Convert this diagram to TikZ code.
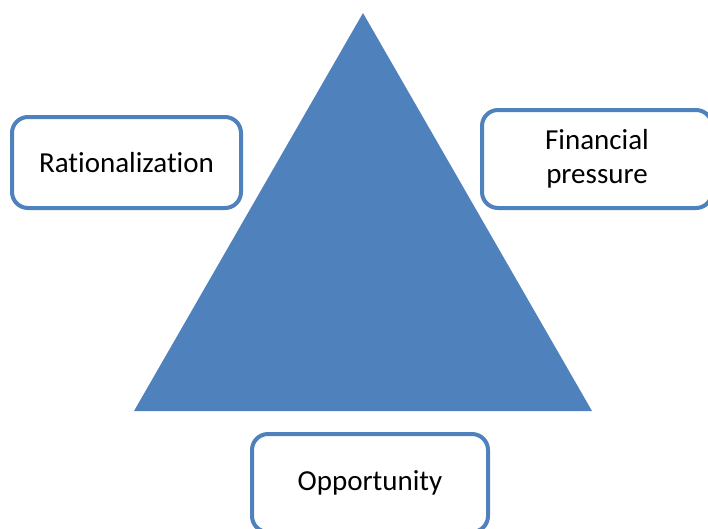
\documentclass[tikz,border=0pt]{standalone}
\usepackage{fontspec}
\setmainfont{Carlito}[Ligatures={NoCommon}]
\definecolor{accent}{HTML}{4F81BD}
\begin{document}
\begin{tikzpicture}[x=1pt,y=-1pt,
  labelbox/.style={draw=accent, line width=4pt, rounded corners=16pt, fill=white,
    minimum width=#1, align=center, font=\fontsize{29}{34}\selectfont, inner sep=0pt},
  labelbox/.default=229pt]
\useasboundingbox (0,0) rectangle (708,528);
\begin{scope}
\clip (0,0) rectangle (708,528);
\fill[accent] (363,13) -- (592,411) -- (134,411) -- cycle;
\node[labelbox=229pt, minimum height=91pt] (rat) at (126.5,162.5) {Rationalization};
\node[labelbox=230pt, minimum height=98pt] (fin) at (597,159) {Financial\\pressure};
\node[labelbox=236pt, minimum height=98pt] (opp) at (370,483) {Opportunity};
\end{scope}
\end{tikzpicture}
\end{document}
